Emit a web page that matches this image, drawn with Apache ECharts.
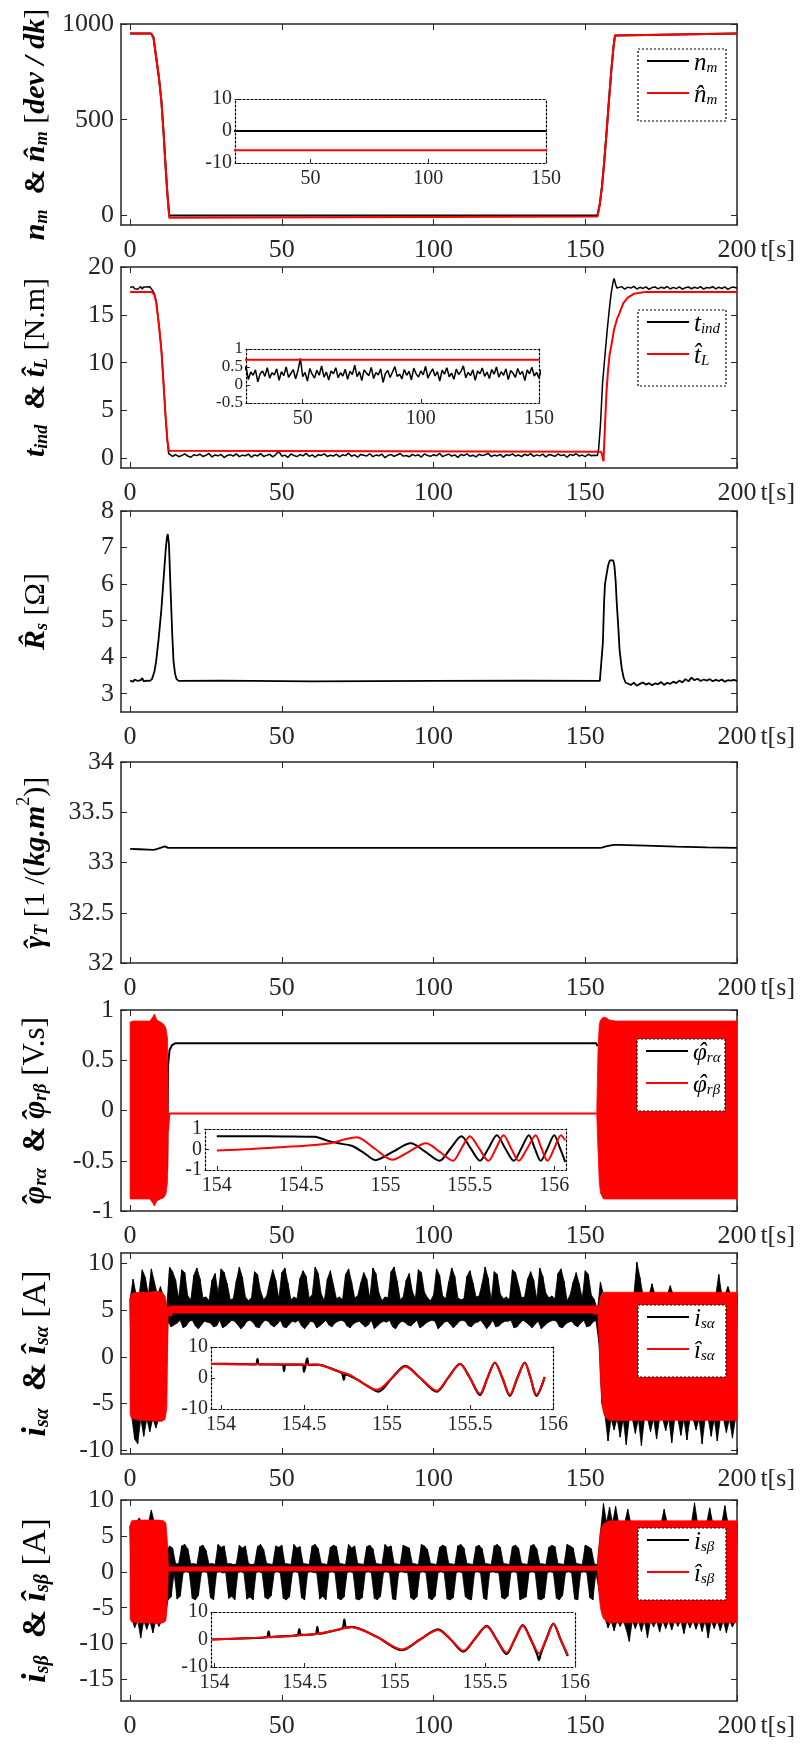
<!DOCTYPE html>
<html><head><meta charset="utf-8">
<script src="https://cdn.jsdelivr.net/npm/echarts@6/dist/echarts.min.js"></script>
<style>html,body{margin:0;padding:0;background:#fff}#c{width:812px;height:1744px}</style>
</head><body><div id="c"></div>
<script>
// ================= DATA =================
const xTicks = [0, 50, 100, 150, 200];
const yTicks1 = [0, 500, 1000];
const yTicks2 = [0, 5, 10, 15, 20];
const yTicks3 = [3, 4, 5, 6, 7, 8];
const yTicks4 = [32, 32.5, 33, 33.5, 34];
const yTicks5 = [-1, -0.5, 0, 0.5, 1];
const yTicks6 = [-10, -5, 0, 5, 10];
const yTicks7 = [-15, -10, -5, 0, 5, 10];
const insetXTicks1 = [50, 100, 150];
const insetYTicks1 = [-10, 0, 10];
const insetYTicks2 = [-0.5, 0, 0.5, 1];
const insetXTicksZoom = [154, 154.5, 155, 155.5, 156];
const insetYTicks5 = [-1, 0, 1];
const insetYTicks6 = [-10, 0, 10];

// Panel 1: speed
const speedT   = [0, 6.9, 7.7, 8.6, 9.5, 10.3, 11.0, 11.7, 12.3, 12.9, 13.5, 154.0, 154.8, 155.5, 156.1, 157.0, 157.8, 158.6, 159.3, 159.8, 160.2, 200];
const speedNm  = [950, 950, 930, 825, 720, 600, 440, 255, 110, 0, 0, 0, 60, 150, 255, 430, 600, 760, 880, 940, 950, 950];
const speedHat = [950, 950, 930, 825, 720, 600, 440, 255, 110, -12, -6, -6, 60, 150, 255, 430, 600, 760, 880, 940, 950, 950];

// Panel 2: torque
const tindPre = [17.85, 17.70, 17.95, 17.72, 17.90, 17.68, 17.88, 17.96, 17.70, 17.92, 17.74, 17.90, 17.78, 17.94, 17.72]; // t = 0..7 step 0.5
const tindDropT = [7.5, 8.0, 8.6, 9.5, 10.3, 11.0, 11.7, 12.3, 12.7];
const tindDropV = [17.5, 17.2, 16.4, 14.0, 11.4, 8.0, 4.4, 1.8, 0.5];
const tindMid = [ // t = 13..153 step 1
  0.35, 0.22, 0.41, 0.18, 0.30, 0.47, 0.25, 0.12, 0.38, 0.29,
  0.44, 0.20, 0.33, 0.52, 0.15, 0.36, 0.27, 0.42, 0.09, 0.31,
  0.39, 0.24, 0.48, 0.19, 0.34, 0.28, 0.45, 0.13, 0.37, 0.26,
  0.50, 0.21, 0.32, 0.43, 0.17, 0.40, 0.74, 0.23, 0.35, 0.11,
  0.46, 0.30, 0.19, 0.41, 0.27, 0.53, 0.22, 0.36, 0.14, 0.39,
  0.31, 0.48, 0.20, 0.34, 0.25, 0.44, 0.16, 0.38, 0.29, 0.55,
  0.23, 0.37, 0.12, 0.42, 0.33, 0.26, 0.49, 0.18, 0.35, 0.28,
  0.45, 0.07, 0.32, 0.40, 0.21, 0.36, 0.51, 0.24, 0.30, 0.17,
  0.43, 0.27, 0.38, 0.14, 0.47, 0.31, 0.22, 0.39, 0.28, 0.52,
  0.19, 0.34, 0.45, 0.25, 0.37, 0.11, 0.41, 0.30, 0.48, 0.23,
  0.33, 0.16, 0.44, 0.29, 0.38, 0.53, 0.20, 0.35, 0.26, 0.42,
  0.13, 0.39, 0.31, 0.47, 0.24, 0.36, 0.18, 0.43, 0.30, 0.50,
  0.22, 0.37, 0.27, 0.45, 0.15, 0.40, 0.33, 0.21, 0.46, 0.29,
  0.38, 0.12, 0.42, 0.31, 0.49, 0.25, 0.35, 0.19, 0.44, 0.28,
  0.33];
const tindRiseT = [154.0, 154.4, 155.0, 155.7, 156.5, 157.2, 157.8, 158.5, 159.2, 159.5, 160.0, 160.4];
const tindRiseV = [0.3, 1.0, 3.5, 7.9, 10.8, 13.3, 15.2, 17.2, 18.5, 18.8, 18.2, 17.8];
const tindPost = [ // t = 161..200 step 1
  17.75, 17.95, 17.68, 17.90, 17.80, 17.97, 17.70, 17.88, 17.76, 17.93,
  17.66, 17.85, 17.92, 17.72, 17.89, 17.78, 17.96, 17.70, 17.87, 17.74,
  17.93, 17.68, 17.84, 17.91, 17.73, 17.88, 17.77, 17.95, 17.69, 17.86,
  17.80, 17.94, 17.71, 17.89, 17.75, 17.92, 17.67, 17.85, 17.90, 17.78];
const tLoadT = [0, 7, 8, 8.6, 9.5, 10.3, 11.0, 11.7, 12.3, 12.8, 13.2, 155.2, 155.6, 156.0, 156.5, 157.0, 157.5, 158.0, 158.7, 159.5, 160.5, 161.3, 162.5, 164.0, 166.0, 170.0, 200];
const tLoadV = [17.4, 17.4, 17.1, 16.3, 13.9, 11.3, 7.9, 4.3, 1.8, 0.8, 0.7, 0.7, 0.3, -0.3, 3.5, 7.0, 9.2, 10.8, 12.0, 13.5, 14.6, 15.2, 16.2, 16.8, 17.2, 17.4, 17.4];

// Panel 3: stator resistance estimate
const rsPre = [3.36, 3.41, 3.33, 3.39, 3.42, 3.35, 3.40, 3.37, 3.43, 3.34, 3.39, 3.36, 3.41, 3.35, 3.38]; // t = 0..7 step 0.5
const rsPeak1T = [7.2, 8.0, 8.6, 9.4, 10.3, 11.0, 11.7, 12.1, 12.4, 12.8, 13.4, 13.9, 14.3, 14.8, 15.3, 16.0, 30, 60, 100, 130, 154.8];
const rsPeak1V = [3.4, 3.6, 3.9, 4.5, 5.3, 6.1, 6.9, 7.25, 7.37, 7.1, 5.7, 4.6, 3.9, 3.55, 3.4, 3.35, 3.36, 3.34, 3.35, 3.36, 3.35];
const rsPeak2T = [155.3, 155.8, 156.2, 156.5, 157.0, 157.5, 158.1, 158.7, 159.2, 159.6, 160.0, 160.4, 160.9, 161.3, 162.0, 162.6, 163.3];
const rsPeak2V = [3.4, 4.4, 5.5, 6.0, 6.25, 6.5, 6.65, 6.7, 6.65, 6.5, 6.1, 5.45, 4.8, 4.2, 3.7, 3.45, 3.3];
const rsPost = [ // t = 164..200 step 1
  3.28, 3.24, 3.30, 3.22, 3.27, 3.31, 3.25, 3.29, 3.23, 3.28,
  3.26, 3.32, 3.24, 3.30, 3.27, 3.33, 3.29, 3.36, 3.31, 3.40,
  3.34, 3.44, 3.37, 3.41, 3.35, 3.39, 3.36, 3.40, 3.34, 3.38,
  3.35, 3.39, 3.33, 3.37, 3.36, 3.38, 3.35];

// Panel 4: gamma_T estimate
const gamT = [0, 3, 6, 7.8, 9, 10.5, 11.5, 12, 12.5, 154.5, 155.5, 156.5, 158, 159.5, 161, 170, 180, 190, 200];
const gamV = [33.135, 33.132, 33.128, 33.125, 33.135, 33.15, 33.16, 33.15, 33.145, 33.145, 33.148, 33.158, 33.168, 33.175, 33.175, 33.168, 33.158, 33.15, 33.145];

// Panel 5: rotor flux
const phiAT = [12.2, 12.5, 13, 13.8, 15, 153.6, 154.0];
const phiAV = [-0.6, 0.45, 0.6, 0.65, 0.67, 0.67, 0.64];
const phiBT = [12.5, 12.9, 80, 153.8];
const phiBV = [-0.2, -0.03, -0.03, -0.03];
const phiBlkAT   = [0, 1, 6.5, 7.5, 8, 8.8, 10, 11, 11.8, 12.3, 12.5];
const phiBlkAUp  = [0.88, 0.89, 0.89, 0.93, 0.96, 0.9, 0.88, 0.86, 0.82, 0.72, 0.3];
const phiBlkALow = [-0.88, -0.88, -0.88, -0.92, -0.95, -0.9, -0.88, -0.87, -0.83, -0.72, -0.3];
const phiBlkBT   = [153.8, 154.2, 154.6, 155, 156, 157, 158, 160, 200];
const phiBlkBUp  = [0, 0.6, 0.85, 0.9, 0.93, 0.92, 0.9, 0.89, 0.89];
const phiBlkBLow = [-0.05, -0.4, -0.7, -0.82, -0.88, -0.88, -0.88, -0.88, -0.88];
const phiInAT = [154.0, 154.2, 154.4, 154.58, 154.66, 154.72, 154.8, 154.87, 154.94, 155.045, 155.15, 155.235, 155.32, 155.385, 155.45, 155.505, 155.56, 155.61, 155.66, 155.71, 155.76, 155.805, 155.85, 155.885, 155.92, 155.96, 156.0, 156.035, 156.065];
const phiInAV = [0.65, 0.65, 0.64, 0.62, 0.42, 0.3, 0.18, -0.15, -0.52, -0.1, 0.3, -0.1, -0.55, 0.05, 0.65, 0.05, -0.55, 0.05, 0.7, 0.05, -0.55, 0.05, 0.7, 0.05, -0.55, 0.05, 0.7, 0.05, -0.6];
const phiInBT = [154.0, 154.2, 154.4, 154.58, 154.68, 154.76, 154.83, 154.935, 155.04, 155.14, 155.24, 155.32, 155.40, 155.45, 155.5, 155.555, 155.61, 155.655, 155.70, 155.745, 155.79, 155.84, 155.89, 155.925, 155.96, 156.0, 156.04, 156.065];
const phiInBV = [-0.05, 0.02, 0.12, 0.22, 0.32, 0.5, 0.6, 0.05, -0.5, -0.1, 0.3, -0.1, -0.55, 0.05, 0.65, 0.05, -0.55, 0.05, 0.7, 0.05, -0.55, 0.05, 0.7, 0.05, -0.55, 0.05, 0.7, 0.45];

// Panel 6: i_s_alpha  (black measured, t = 0..200 step 0.5; even samples = upper excursions, odd = lower)
const isaBlack = [
  6.2, -6.3, 8.3, -8.8, 6.6, -9.3, 6.6, -6.6, 9.3, -8.5,
  8.5, -6.6, 6.6, -8.0, 9.4, -6.6, 8.0, -7.6, 6.6, -6.6,
  7.5, -6.6, 6.5, -5.8, 5.0, 3.8, 9.6, 3.2, 9.1, 3.4,
  8.2, 3.6, 6.2, 3.9, 9.3, 3.1, 9.0, 3.3, 6.5, 3.8,
  6.1, 3.9, 8.7, 3.3, 9.5, 3.0, 8.4, 3.4, 6.3, 3.8,
  6.4, 3.7, 6.0, 3.6, 8.2, 3.2, 8.9, 3.3, 6.8, 3.9,
  9.4, 3.1, 9.0, 3.3, 7.8, 3.6, 6.1, 3.9, 6.2, 3.8,
  8.1, 3.4, 9.6, 3.0, 8.5, 3.3, 6.4, 3.8, 6.0, 3.9,
  6.3, 3.7, 9.1, 3.2, 8.8, 3.1, 7.0, 3.6, 6.1, 3.9,
  6.5, 3.8, 8.0, 3.4, 9.3, 3.2, 8.2, 3.5, 6.2, 3.9,
  9.0, 3.2, 9.5, 3.1, 7.9, 3.5, 6.1, 3.8, 6.4, 3.7,
  6.2, 3.9, 8.4, 3.3, 9.2, 3.0, 8.6, 3.4, 6.3, 3.8,
  6.6, 3.7, 9.6, 3.1, 8.9, 3.3, 6.7, 3.6, 6.0, 3.9,
  8.3, 3.4, 9.2, 3.2, 7.7, 3.6, 6.2, 3.8, 6.4, 3.9,
  6.1, 3.8, 8.8, 3.3, 9.4, 3.1, 8.0, 3.5, 6.3, 3.7,
  6.5, 3.8, 7.9, 3.5, 9.0, 3.2, 8.3, 3.4, 6.2, 3.9,
  9.5, 3.0, 8.9, 3.3, 6.8, 3.6, 6.0, 3.8, 6.4, 3.7,
  6.3, 3.9, 9.1, 3.2, 9.6, 3.0, 8.1, 3.5, 6.1, 3.8,
  6.4, 3.7, 8.2, 3.4, 8.9, 3.3, 7.0, 3.6, 6.2, 3.9,
  9.3, 3.1, 9.0, 3.3, 6.9, 3.6, 6.3, 3.8, 6.0, 3.9,
  6.6, 3.8, 9.4, 3.0, 8.7, 3.3, 6.5, 3.7, 6.2, 3.8,
  8.0, 3.5, 9.5, 3.1, 8.6, 3.4, 6.3, 3.8, 6.1, 3.9,
  6.2, 3.8, 8.6, 3.3, 9.2, 3.2, 7.9, 3.6, 6.4, 3.7,
  6.5, 3.9, 7.8, 3.5, 9.6, 3.0, 8.4, 3.4, 6.0, 3.9,
  9.1, 3.2, 8.8, 3.3, 6.7, 3.6, 6.2, 3.8, 6.4, 3.8,
  6.1, 3.9, 9.3, 3.1, 9.0, 3.2, 7.7, 3.6, 6.3, 3.9,
  6.4, 3.7, 8.3, 3.4, 9.1, 3.1, 8.2, 3.5, 6.1, 3.8,
  9.5, 3.0, 8.6, 3.3, 6.8, 3.6, 6.3, 3.8, 6.5, 3.9,
  6.2, 3.8, 8.9, 3.2, 9.4, 3.1, 8.1, 3.5, 6.0, 3.7,
  6.6, 3.8, 8.0, 3.4, 9.0, 3.2, 7.8, 3.6, 6.2, 3.9,
  9.2, 3.2, 8.8, 3.3, 6.6, 3.7, 6.1, 3.9, 5.0, 1.5,
  8.0, -5.0, 6.6, -6.3, 6.6, -9.0, 6.6, -6.6, 6.6, -7.8,
  6.6, -6.6, 6.6, -8.6, 6.6, -6.6, 6.6, -9.4, 6.6, -6.6,
  6.6, -6.6, 6.6, -8.2, 10.1, -6.6, 8.5, -9.5, 6.6, -6.6,
  6.6, -6.6, 6.6, -8.0, 7.8, -6.6, 6.6, -8.8, 6.6, -6.6,
  6.6, -6.6, 6.6, -7.9, 6.6, -6.6, 7.6, -9.2, 6.6, -6.6,
  6.6, -6.6, 6.6, -8.4, 6.6, -6.6, 6.6, -8.9, 6.6, -6.6,
  6.6, -6.6, 6.6, -7.8, 6.6, -6.6, 6.6, -9.3, 6.6, -6.6,
  6.6, -6.6, 6.6, -8.5, 6.6, -6.6, 6.6, -9.0, 8.8, -6.6,
  6.6, -6.6, 6.6, -8.1, 7.5, -6.6, 6.6, -8.7, 6.6, -6.6,
  6.6];
const isaRedT = [12.4, 12.8, 13.5, 40, 80, 120, 153.8, 154.2];
const isaRedV = [4.4, 4.8, 5.05, 5.05, 5.05, 5.05, 5.05, 4.6];
const isaBlkAT   = [0, 0.5, 3, 6, 9, 10.5, 11.5, 12.1, 12.5];
const isaBlkAUp  = [6.2, 6.8, 6.9, 6.9, 7.0, 6.9, 6.5, 5.5, 4.6];
const isaBlkALow = [-6.2, -6.6, -6.8, -6.8, -6.9, -6.9, -6.7, -5.5, 4.2];
const isaBlkBT   = [154.2, 154.6, 155, 155.5, 156, 157, 158, 160, 200];
const isaBlkBUp  = [4.8, 5.8, 6.4, 6.8, 6.9, 6.9, 6.9, 6.9, 6.9];
const isaBlkBLow = [4.4, 1.5, -2.5, -5.0, -6.0, -6.6, -6.8, -6.8, -6.8];
const isaInRT = [153.94, 154.2, 154.4, 154.58, 154.7, 154.78, 154.82, 154.94, 155.03, 155.11, 155.2, 155.3, 155.37, 155.44, 155.5, 155.56, 155.605, 155.65, 155.695, 155.74, 155.785, 155.83, 155.865, 155.9, 155.95];
const isaInRV = [4.5, 4.4, 4.4, 4.3, 2.3, 0.9, -0.5, -3.8, 0.0, 3.7, 0.0, -4.1, 0.2, 4.4, 0.0, -5.1, 0.0, 4.8, 0.0, -5.4, 0.0, 4.8, 0.0, -5.4, 0.4];
const isaInKT = [153.94, 154.1, 154.21, 154.22, 154.23, 154.37, 154.38, 154.39, 154.49, 154.5, 154.51, 154.52, 154.53, 154.58, 154.7, 154.73, 154.74, 154.75, 154.82, 154.88, 154.95, 155.03, 155.11, 155.2, 155.3, 155.37, 155.44, 155.5, 155.56, 155.605, 155.65, 155.695, 155.74, 155.785, 155.83, 155.865, 155.9, 155.95];
const isaInKV = [4.6, 4.5, 4.4, 6.2, 4.4, 4.3, 2.2, 4.3, 4.3, 2.0, 4.3, 6.3, 4.2, 4.3, 2.3, 1.5, -0.6, 1.2, -0.5, -2.5, -4.4, 0.0, 3.9, 0.0, -4.4, 0.2, 4.6, 0.0, -5.5, 0.0, 5.0, 0.0, -5.8, 0.0, 5.0, 0.0, -5.8, 0.3];

// Panel 7: i_s_beta (black measured, t = 0..200 step 0.5; even samples = upper excursions, odd = lower)
const isbBlack = [
  6.4, -6.4, 6.8, -7.8, 6.8, -6.8, 7.5, -9.2, 6.8, -6.8,
  6.8, -8.0, 6.8, -6.8, 8.6, -8.5, 6.8, -6.8, 6.8, -7.6,
  6.8, -6.8, 6.6, -6.5, 3.0, -3.9, 3.6, -3.5, 3.3, -0.1,
  1.15, -3.8, 1.1, -3.4, 3.6, -0.1, 3.8, 0.0, 3.2, -0.15,
  1.1, -3.7, 1.15, -3.9, 1.0, -3.3, 3.5, -0.1, 3.7, 0.0,
  3.0, -0.15, 1.1, -3.6, 1.15, -3.9, 1.0, -0.1, 3.8, 0.0,
  3.4, -0.15, 3.6, -0.1, 1.1, -3.7, 1.15, -3.4, 1.0, -3.9,
  1.1, -0.1, 3.7, 0.0, 3.3, -0.15, 3.6, -3.8, 1.15, -3.5,
  1.0, -3.9, 1.1, -0.1, 3.5, 0.0, 3.8, -0.15, 3.1, -3.6,
  1.15, -3.8, 1.1, -3.3, 1.0, -0.1, 3.6, 0.0, 3.4, -0.15,
  3.7, -3.7, 1.15, -3.9, 1.1, -3.5, 1.0, -0.1, 3.8, 0.0,
  3.3, -0.15, 3.5, -3.6, 1.15, -3.9, 1.1, -0.1, 1.0, 0.0,
  3.6, -0.1, 3.8, -0.15, 3.2, -3.8, 1.15, -3.4, 1.1, -3.9,
  1.0, -0.1, 3.4, 0.0, 3.7, -0.15, 3.5, -3.7, 1.15, -3.9,
  1.1, -3.5, 1.0, -0.1, 3.8, 0.0, 3.3, -0.15, 3.6, -3.8,
  1.15, -3.9, 1.1, -3.6, 1.0, -0.1, 3.5, 0.0, 3.7, -0.15,
  3.2, -3.7, 1.15, -3.9, 1.1, -3.4, 1.0, -0.1, 3.8, 0.0,
  3.4, -0.15, 3.6, -3.8, 1.15, -3.9, 1.1, -0.1, 1.0, 0.0,
  3.7, -0.1, 3.5, -0.15, 3.3, -3.6, 1.15, -3.9, 1.1, -3.5,
  1.0, -0.1, 3.8, 0.0, 3.6, -0.15, 3.1, -3.7, 1.15, -3.9,
  1.1, -3.4, 1.0, -0.1, 3.4, 0.0, 3.7, -0.15, 3.5, -3.8,
  1.15, -3.9, 1.1, -3.6, 1.0, -0.1, 3.6, 0.0, 3.8, -0.15,
  3.3, -3.5, 1.15, -3.8, 1.1, -3.9, 1.0, -0.1, 3.5, 0.0,
  3.7, -0.15, 3.2, -3.7, 1.15, -3.9, 1.1, -0.1, 1.0, 0.0,
  3.6, -0.1, 3.8, -0.15, 3.4, -3.6, 1.15, -3.8, 1.1, -3.4,
  1.0, -0.1, 3.5, 0.0, 3.7, -0.15, 3.3, -3.9, 1.15, -3.7,
  1.1, -3.5, 1.0, -0.1, 3.6, 0.0, 3.8, -0.15, 3.2, -3.8,
  1.15, -3.9, 1.1, -3.6, 1.0, -0.1, 3.4, 0.0, 3.7, -0.15,
  3.5, -3.7, 1.15, -3.9, 1.1, -3.3, 1.0, -0.1, 3.8, 0.0,
  3.6, -0.15, 3.3, -3.8, 1.15, -3.9, 1.1, -0.1, 1.0, 0.0,
  3.7, -0.1, 3.5, -3.6, 3.2, -3.9, 1.1, -0.1, 1.0, -2.5,
  5.5, -5.0, 9.5, -6.5, 6.8, -7.8, 9.0, -6.8, 6.8, -8.2,
  9.1, -6.8, 6.8, -7.6, 6.8, -6.8, 6.8, -8.0, 8.7, -9.7,
  6.8, -6.8, 6.8, -7.9, 6.8, -6.8, 6.8, -8.3, 6.8, -6.8,
  6.8, -9.2, 6.8, -6.8, 6.8, -7.7, 6.8, -6.8, 6.8, -8.4,
  6.8, -6.8, 8.7, -7.9, 6.8, -6.8, 6.8, -8.1, 6.8, -6.8,
  6.8, -7.6, 6.8, -6.8, 6.8, -8.6, 6.8, -6.8, 6.8, -7.8,
  6.8, -6.8, 9.6, -8.0, 6.8, -6.8, 6.8, -8.3, 6.8, -6.8,
  6.8, -9.2, 8.9, -6.8, 6.8, -7.9, 6.8, -6.8, 6.8, -8.2,
  6.8, -6.8, 9.2, -8.5, 6.8, -6.8, 6.8, -7.7, 6.8, -6.8,
  6.8];
const isbRedT = [12.6, 13.0, 154.0];
const isbRedV = [0.4, 0.5, 0.5];
const isbBlkAT   = [0, 0.5, 3, 6, 9, 11, 11.8, 12.3, 12.6];
const isbBlkAUp  = [6.5, 7.1, 7.2, 7.2, 7.2, 7.1, 6.8, 4.0, 0.8];
const isbBlkALow = [-6.5, -7.0, -7.1, -7.1, -7.2, -7.1, -6.8, -4.0, 0.3];
const isbBlkBT   = [154.0, 154.5, 155, 155.5, 156, 157, 158, 200];
const isbBlkBUp  = [0.8, 3.5, 5.5, 6.3, 6.7, 6.9, 7.1, 7.1];
const isbBlkBLow = [0.3, -3.0, -5.0, -6.0, -6.5, -6.9, -7.1, -7.1];
const isbInRT = [153.98, 154.2, 154.4, 154.56, 154.66, 154.76, 154.9, 155.04, 155.14, 155.24, 155.31, 155.38, 155.445, 155.51, 155.565, 155.62, 155.665, 155.71, 155.755, 155.8, 155.84, 155.88, 155.92, 155.96];
const isbInRV = [0.0, 0.5, 1.2, 2.0, 3.2, 4.5, 1.0, -3.6, 0.0, 3.5, 0.0, -4.1, 0.3, 4.7, 0.0, -4.8, 0.0, 5.0, 0.0, -5.0, 0.0, 5.6, 0.0, -5.7];
const isbInKT = [153.98, 154.2, 154.29, 154.3, 154.31, 154.4, 154.46, 154.47, 154.48, 154.56, 154.57, 154.58, 154.66, 154.71, 154.72, 154.73, 154.76, 154.9, 155.04, 155.14, 155.24, 155.31, 155.38, 155.445, 155.51, 155.565, 155.62, 155.665, 155.71, 155.755, 155.79, 155.8, 155.81, 155.84, 155.88, 155.92, 155.96];
const isbInKV = [0.0, 0.5, 0.9, 3.0, 0.9, 1.2, 1.6, 3.8, 1.7, 2.0, 4.6, 2.1, 3.2, 4.2, 7.2, 4.3, 4.6, 1.0, -3.9, 0.0, 3.7, 0.0, -4.4, 0.3, 5.0, 0.0, -5.3, 0.0, 5.2, 0.0, -5.4, -7.5, -5.2, 0.0, 5.8, 0.0, -6.0];

// ================= HELPERS =================
const seg = (t0, dt, vals) => vals.map((v, i) => [+(t0 + i * dt).toFixed(3), v]);
const zip = (ts, vs) => ts.map((t, i) => [t, vs[i]]);

const FONT = '"Liberation Serif", "Times New Roman", serif';
const AX = '#262626';
const RED = '#ff0000';
const BLK = '#000000';

const grid = [], xAxis = [], yAxis = [], series = [], legend = [], graphic = [];

function nameRich(fs) {
  const lh = Math.round(fs * 1.2), ss = Math.round(fs * 0.6);
  return {
    v: {fontFamily: FONT, fontSize: fs, fontStyle: 'italic', fontWeight: 'bold', color: '#000', verticalAlign: 'bottom', lineHeight: lh},
    h: {fontFamily: FONT, fontSize: fs, fontStyle: 'italic', fontWeight: 'bold', color: '#000', verticalAlign: 'bottom', lineHeight: lh, width: 0},
    b: {fontFamily: FONT, fontSize: fs, fontWeight: 'bold', color: '#000', verticalAlign: 'bottom', lineHeight: lh},
    u: {fontFamily: FONT, fontSize: fs, color: '#000', verticalAlign: 'bottom', lineHeight: lh},
    s: {fontFamily: FONT, fontSize: ss, fontStyle: 'italic', fontWeight: 'bold', color: '#000', verticalAlign: 'bottom', lineHeight: ss},
    sp: {fontFamily: FONT, fontSize: ss, color: '#000', verticalAlign: 'top', lineHeight: ss}
  };
}

function addGrid(box, xr, xt, yr, yt, inset, yName, opt) {
  opt = opt || {};
  const gi = grid.length;
  grid.push({left: box[0], top: box[1], width: box[2], height: box[3], containLabel: false, outerBoundsMode: 'none'});
  const line = inset ? {color: '#000', width: 1.2, type: [2, 2]} : {color: AX, width: 1.5};
  const fs = inset ? 20 : 26;
  const fmt = v => String(v);
  const xi = xAxis.length, yi = yAxis.length;
  const xBottom = {
    type: 'value', gridIndex: gi, min: xr[0], max: xr[1], position: 'bottom',
    axisLine: {show: true, onZero: false, lineStyle: line},
    axisTick: {show: true, inside: true, length: inset ? 4 : 6, customValues: xt, lineStyle: {color: AX, width: 1}},
    axisLabel: {show: true, customValues: xt, formatter: fmt, fontFamily: FONT, fontSize: fs, color: AX,
      margin: inset ? 6 : 12, showMinLabel: true, showMaxLabel: true, hideOverlap: false},
    splitLine: {show: false}
  };
  if (!inset) {
    xBottom.name = 't[s]';
    xBottom.nameLocation = 'end';
    xBottom.nameGap = 21;
    xBottom.nameTextStyle = {fontFamily: FONT, fontSize: 26, color: AX, verticalAlign: 'top', padding: [12, 0, 0, 0]};
  }
  xAxis.push(xBottom);
  xAxis.push({
    type: 'value', gridIndex: gi, min: xr[0], max: xr[1], position: 'top',
    axisLine: {show: true, onZero: false, lineStyle: line},
    axisTick: {show: !inset, inside: true, length: 6, customValues: xt, lineStyle: {color: AX, width: 1}},
    axisLabel: {show: false}, splitLine: {show: false}
  });
  const yLeft = {
    type: 'value', gridIndex: gi, min: yr[0], max: yr[1], position: 'left',
    axisLine: {show: true, onZero: false, lineStyle: line},
    axisTick: {show: true, inside: true, length: inset ? 4 : 6, customValues: yt, lineStyle: {color: AX, width: 1}},
    axisLabel: {show: true, customValues: yt, formatter: fmt, fontFamily: FONT, fontSize: opt.yfs || fs, color: AX,
      margin: inset ? 3 : 7, showMinLabel: true, showMaxLabel: true, hideOverlap: false},
    splitLine: {show: false}
  };
  if (yName) {
    yLeft.name = yName;
    yLeft.nameLocation = 'middle';
    yLeft.nameRotate = 90;
    yLeft.nameGap = opt.gap || 70;
    yLeft.nameTextStyle = {rich: nameRich(opt.nfs || 30)};
  }
  yAxis.push(yLeft);
  yAxis.push({
    type: 'value', gridIndex: gi, min: yr[0], max: yr[1], position: 'right',
    axisLine: {show: true, onZero: false, lineStyle: line},
    axisTick: {show: !inset, inside: true, length: 6, customValues: yt, lineStyle: {color: AX, width: 1}},
    axisLabel: {show: false}, splitLine: {show: false}
  });
  return {x: xi, y: yi};
}

function lineS(ax, name, data, color, width, extra) {
  series.push(Object.assign({
    type: 'line', name: name, xAxisIndex: ax.x, yAxisIndex: ax.y, data: data,
    symbol: 'none', showSymbol: false, color: color,
    lineStyle: {color: color, width: width}, itemStyle: {color: color},
    clip: true, silent: true, animation: false, z: 2
  }, extra || {}));
}

function polyS(ax, upPts, lowPts, color, z) {
  series.push({
    type: 'custom', xAxisIndex: ax.x, yAxisIndex: ax.y, silent: true, animation: false, z: z,
    data: [upPts[0]], encode: {x: 0, y: 1}, clip: true,
    renderItem: (params, api) => {
      const pts = [];
      for (let i = 0; i < upPts.length; i++) pts.push(api.coord(upPts[i]));
      for (let i = lowPts.length - 1; i >= 0; i--) pts.push(api.coord(lowPts[i]));
      return {type: 'polygon', shape: {points: pts}, style: {fill: color, stroke: color, lineWidth: 0.8}};
    }
  });
}
// envelope band from arrays
const bandS = (ax, ts, up, low, color) => polyS(ax, zip(ts, up), zip(ts, low), color, 3);
// dense oscillation: upper excursions (even samples) and lower excursions (odd samples)
function zigBandS(ax, t0, dt, vals, color) {
  const pts = seg(t0, dt, vals);
  polyS(ax, pts.filter((p, i) => i % 2 === 0), pts.filter((p, i) => i % 2 === 1), color, 2);
}

const HAT = '\u2009\u02c6';
const LEG_TEXT = {
  'n_m': '{i|n}{s|m}', 'n\u0302_m': '{i|n\u0302}{s|m}',
  't_ind': '{i|t}{s|ind}', 't\u0302_L': '{i|t\u0302}{s|L}',
  'phi_ra': '{h|' + HAT + '}{i|\u03c6}{s|r\u03b1}', 'phi_rb': '{h|' + HAT + '}{i|\u03c6}{s|r\u03b2}',
  'i_s\u03b1': '{i|i}{s|s\u03b1}', '\u00ee_s\u03b1': '{i|\u00ee}{s|s\u03b1}',
  'i_s\u03b2': '{i|i}{s|s\u03b2}', '\u00ee_s\u03b2': '{i|\u00ee}{s|s\u03b2}'
};
const LEG_RICH = {
  i: {fontFamily: FONT, fontSize: 25, fontStyle: 'italic', color: '#000', verticalAlign: 'bottom', lineHeight: 30},
  h: {fontFamily: FONT, fontSize: 25, fontStyle: 'italic', color: '#000', verticalAlign: 'bottom', lineHeight: 30, width: 0},
  s: {fontFamily: FONT, fontSize: 15, fontStyle: 'italic', color: '#000', verticalAlign: 'bottom', lineHeight: 14}
};
function addLegend(names, box) {
  graphic.push({type: 'rect', z: 10, silent: true, shape: {x: box[0], y: box[1], width: box[2], height: box[3]},
    style: {fill: '#fff', stroke: '#000', lineWidth: 1.2, lineDash: [2, 2]}});
  legend.push({show: true, orient: 'vertical', left: box[0] + 9, top: box[1] + 2, itemWidth: 42, itemHeight: 2,
    itemGap: 7, icon: 'rect', selectedMode: false, z: 20, data: names, padding: 0,
    formatter: n => LEG_TEXT[n], textStyle: {rich: LEG_RICH}});
}

// ================= LAYOUT =================
const L = 121, W = 616, H = 201;
const tops = [24, 267, 511, 762, 1010, 1253, 1500];
const XR = [-3, 200];

// Panel 1
const a1 = addGrid([L, tops[0], W, H], XR, xTicks, [-50, 1000], yTicks1, false,
  '{v|n}{s|m}{b|  & }{v|n\u0302}{s|m}{u| [}{v|dev / dk}{u|]}');
lineS(a1, 'n_m', zip(speedT, speedNm), BLK, 2);
lineS(a1, 'n\u0302_m', zip(speedT, speedHat), RED, 2);
const i1 = addGrid([235, 99, 311, 64], [18, 150], insetXTicks1, [-10, 10], insetYTicks1, true);
lineS(i1, '_i1k', zip(speedT, speedNm), BLK, 2);
lineS(i1, '_i1r', zip(speedT, speedHat), RED, 2);
addLegend(['n_m', 'n\u0302_m'], [638, 49, 88, 72]);

// Panel 2
const tindData = [].concat(seg(0, 0.5, tindPre), zip(tindDropT, tindDropV), seg(13, 1, tindMid), zip(tindRiseT, tindRiseV), seg(161, 1, tindPost));
const a2 = addGrid([L, tops[1], W, H], XR, xTicks, [-1, 20], yTicks2, false,
  '{v|t}{s|ind}{b|  & }{v|t\u0302}{s|L}{u| [N.m]}');
lineS(a2, 't_ind', tindData, BLK, 1.5);
lineS(a2, 't\u0302_L', zip(tLoadT, tLoadV), RED, 2);
const i2 = addGrid([246, 349, 293, 54], [26, 150], insetXTicks1, [-0.5, 1], insetYTicks2, true, null, {yfs: 17});
lineS(i2, '_i2k', tindData, BLK, 1.5);
lineS(i2, '_i2r', zip(tLoadT, tLoadV), RED, 2);
addLegend(['t_ind', 't\u0302_L'], [638, 310, 88, 76]);

// Panel 3
const a3 = addGrid([L, tops[2], W, H], XR, xTicks, [2.5, 8], yTicks3, false,
  '{v|R\u0302}{s|s}{u| [\u03a9]}');
lineS(a3, 'Rs', [].concat(seg(0, 0.5, rsPre), zip(rsPeak1T, rsPeak1V), zip(rsPeak2T, rsPeak2V), seg(164, 1, rsPost)), BLK, 1.8);

// Panel 4
const a4 = addGrid([L, tops[3], W, H], XR, xTicks, [32, 34], yTicks4, false,
  '{h|' + HAT + '}{v|\u03b3}{s|T}{u| [1 /(}{v|kg.m}{sp|2}{u|)]}');
lineS(a4, 'gammaT', zip(gamT, gamV), BLK, 1.8);

// Panel 5
const a5 = addGrid([L, tops[4], W, H], XR, xTicks, [-1, 1], yTicks5, false,
  '{h|' + HAT + '}{v|\u03c6}{s|r\u03b1}{b|  & }{h|' + HAT + '}{v|\u03c6}{s|r\u03b2}{u| [V.s]}', {nfs: 31});
lineS(a5, 'phi_ra', zip(phiAT, phiAV), BLK, 2);
bandS(a5, phiBlkAT, phiBlkAUp, phiBlkALow, RED);
bandS(a5, phiBlkBT, phiBlkBUp, phiBlkBLow, RED);
lineS(a5, 'phi_rb', zip(phiBT, phiBV), RED, 2, {z: 3});
const i5 = addGrid([205, 1129, 361, 41], [153.93, 156.07], insetXTicksZoom, [-1, 1], insetYTicks5, true);
lineS(i5, '_i5k', zip(phiInAT, phiInAV), BLK, 2, {smooth: 0.3});
lineS(i5, '_i5r', zip(phiInBT, phiInBV), RED, 2, {smooth: 0.3});
addLegend(['phi_ra', 'phi_rb'], [637, 1039, 88, 72]);

// Panel 6
const a6 = addGrid([L, tops[5], W, H], XR, xTicks, [-10.4, 11.1], yTicks6, false,
  '{v|i}{s|s\u03b1}{b|  & }{v|\u00ee}{s|s\u03b1}{u| [A]}', {nfs: 34, gap: 68});
zigBandS(a6, 0, 0.5, isaBlack, BLK);
lineS(a6, 'i_s\u03b1', seg(0, 0.5, isaBlack), BLK, 0.8);
bandS(a6, isaBlkAT, isaBlkAUp, isaBlkALow, RED);
bandS(a6, isaBlkBT, isaBlkBUp, isaBlkBLow, RED);
lineS(a6, '\u00ee_s\u03b1', zip(isaRedT, isaRedV), RED, 8, {z: 3});
const i6 = addGrid([211, 1347, 342, 62], [153.94, 156], insetXTicksZoom, [-10, 10], insetYTicks6, true);
lineS(i6, '_i6k', zip(isaInKT, isaInKV), BLK, 2.2, {smooth: 0.3});
lineS(i6, '_i6r', zip(isaInRT, isaInRV), RED, 2, {smooth: 0.3});
addLegend(['i_s\u03b1', '\u00ee_s\u03b1'], [638, 1305, 88, 72]);

// Panel 7
const a7 = addGrid([L, tops[6], W, H], XR, xTicks, [-18, 10], yTicks7, false,
  '{v|i}{s|s\u03b2}{b|  & }{v|\u00ee}{s|s\u03b2}{u| [A]}', {nfs: 34, gap: 68});
zigBandS(a7, 0, 0.5, isbBlack, BLK);
lineS(a7, 'i_s\u03b2', seg(0, 0.5, isbBlack), BLK, 0.8);
bandS(a7, isbBlkAT, isbBlkAUp, isbBlkALow, RED);
bandS(a7, isbBlkBT, isbBlkBUp, isbBlkBLow, RED);
lineS(a7, '\u00ee_s\u03b2', zip(isbRedT, isbRedV), RED, 5, {z: 3});
const i7 = addGrid([211, 1612, 364, 55], [153.98, 156], insetXTicksZoom, [-10, 10], insetYTicks6, true);
lineS(i7, '_i7k', zip(isbInKT, isbInKV), BLK, 2.2, {smooth: 0.3});
lineS(i7, '_i7r', zip(isbInRT, isbInRV), RED, 2, {smooth: 0.3});
addLegend(['i_s\u03b2', '\u00ee_s\u03b2'], [638, 1528, 88, 72]);

const chart = echarts.init(document.getElementById('c'), null, {renderer: 'canvas'});
chart.setOption({
  animation: false,
  backgroundColor: '#fff',
  textStyle: {fontFamily: FONT},
  grid: grid, xAxis: xAxis, yAxis: yAxis, series: series, legend: legend,
  graphic: {elements: graphic}
});
</script>
</body></html>
